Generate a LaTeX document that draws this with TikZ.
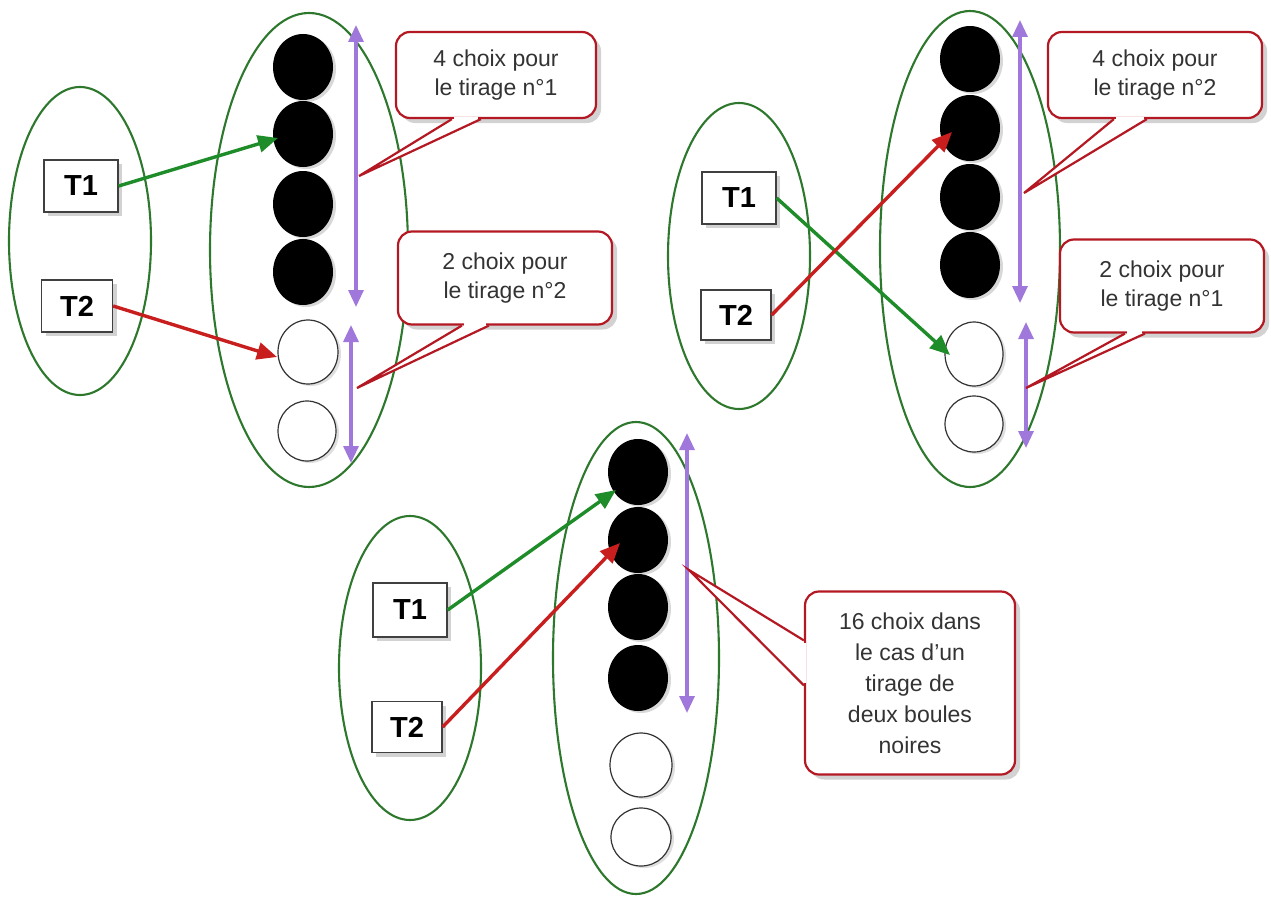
\documentclass[tikz,border=0pt]{standalone}
\usepackage{fontspec}
\setmainfont{Liberation Sans}
\usetikzlibrary{arrows.meta,shapes.geometric,shadows,calc}
\definecolor{grn}{RGB}{45,120,45}
\definecolor{garrow}{RGB}{30,140,40}
\definecolor{rarrow}{RGB}{200,30,30}
\definecolor{purp}{RGB}{160,120,220}
\definecolor{cbord}{RGB}{180,25,35}
\begin{document}
\begin{tikzpicture}[x=1pt,y=-1pt,
 grpell/.style={draw=grn, line width=2.1pt, ellipse, inner sep=0pt},
 blackball/.style={ellipse, fill=black, minimum width=60pt, minimum height=66pt, inner sep=0pt,
   drop shadow={shadow xshift=3pt,shadow yshift=-2pt,opacity=0.3}},
 whiteball/.style={ellipse, draw=black!80, line width=1.2pt, fill=white, minimum width=58pt, minimum height=60pt, inner sep=0pt,
   drop shadow={shadow xshift=3pt,shadow yshift=-2pt,opacity=0.25}},
 tbox/.style={draw=black!75, line width=1.3pt, fill=white, font=\bfseries\fontsize{29}{29}\selectfont,
   minimum width=72pt, minimum height=52pt, inner sep=0pt,
   drop shadow={shadow xshift=4pt,shadow yshift=-4pt,opacity=0.35}},
 callbox/.style={draw=cbord, line width=2.2pt, fill=white, rounded corners=14pt, align=center,
   font=\fontsize{23}{29}\selectfont, text=black!80, inner sep=0pt,
   drop shadow={shadow xshift=5pt,shadow yshift=-5pt,opacity=0.35}},
 gar/.style={draw=garrow, line width=3.4pt, -{Triangle[length=20pt,width=17pt]}},
 rar/.style={draw=rarrow, line width=3.4pt, -{Triangle[length=20pt,width=17pt]}},
 par/.style={draw=purp, line width=3.2pt, {Triangle[length=17pt,width=15pt]}-{Triangle[length=17pt,width=15pt]}},
 wedge/.style={draw=cbord, line width=2.2pt, fill=white, line join=miter},
 cover/.style={draw=white, line width=2.4pt}
]
\useasboundingbox[fill=white] (0,0) rectangle (1271,899);

% ---------------- Panel 1 ----------------
\node[grpell, minimum width=142pt, minimum height=308pt] (e11) at (80,241) {};
\node[grpell, minimum width=198pt, minimum height=474pt] (e12) at (309,250) {};
\node[tbox, minimum width=74pt] (t11) at (81,186) {T1};
\node[tbox, minimum width=71pt] (t12) at (77,306) {T2};
\node[blackball] (b11) at (303,67) {};
\node[blackball] (b12) at (303,134) {};
\node[blackball] (b13) at (303,204) {};
\node[blackball] (b14) at (303,272) {};
\node[whiteball, minimum width=60pt, minimum height=64pt] (w11) at (308,352) {};
\node[whiteball] (w12) at (307,431) {};
\coordinate (p11a) at (356,25);
\coordinate (p11b) at (356,307);
\coordinate (p12a) at (351,325);
\coordinate (p12b) at (351,463);
\draw[par] (p11a) -- (p11b);
\draw[par] (p12a) -- (p12b);
\draw[gar] (t11.east) -- ($(b12)+(-25,4)$);
\draw[rar] (t12.east) -- ($(w11)+(-31,5)$);
\node[callbox, minimum width=200pt, minimum height=86pt] (c11) at (496,75) {4 choix pour\\le tirage n°1};
\node[callbox, minimum width=214pt, minimum height=93pt] (c12) at (505,278) {2 choix pour\\le tirage n°2};
\coordinate (k11) at (359,176);
\coordinate (k12) at (357,388);
\filldraw[wedge] ($(c11.south west)+(57,0)$) -- (k11) -- ($(c11.south west)+(86,0)$);
\draw[cover] ($(c11.south west)+(59.5,-1)$) -- ($(c11.south west)+(83.5,-1)$);
\filldraw[wedge] ($(c12.south west)+(65,0)$) -- (k12) -- ($(c12.south west)+(92,0)$);
\draw[cover] ($(c12.south west)+(67.5,-1)$) -- ($(c12.south west)+(89.5,-1)$);

% ---------------- Panel 2 ----------------
\node[grpell, minimum width=142pt, minimum height=306pt] (e21) at (739,256) {};
\node[grpell, minimum width=180pt, minimum height=476pt] (e22) at (970,249) {};
\node[tbox, minimum width=74pt] (t21) at (739,198) {T1};
\node[tbox, minimum width=70pt, minimum height=50pt] (t22) at (736,315) {T2};
\node[blackball] (b21) at (970,59) {};
\node[blackball] (b22) at (970,128) {};
\node[blackball] (b23) at (970,197) {};
\node[blackball] (b24) at (970,265) {};
\node[whiteball, minimum height=64pt] (w21) at (974,354) {};
\node[whiteball, minimum height=56pt] (w22) at (974,424) {};
\coordinate (p21a) at (1020,20);
\coordinate (p21b) at (1020,303);
\coordinate (p22a) at (1026,322);
\coordinate (p22b) at (1026,448);
\draw[par] (p21a) -- (p21b);
\draw[par] (p22a) -- (p22b);
\draw[gar] (t21.east) -- ($(w21)+(-24,1)$);
\draw[rar] (t22.east) -- ($(b22)+(-18,4)$);
\node[callbox, minimum width=214pt, minimum height=86pt] (c21) at (1155,75) {4 choix pour\\le tirage n°2};
\node[callbox, minimum width=204pt, minimum height=93pt] (c22) at (1162,286) {2 choix pour\\le tirage n°1};
\coordinate (k21) at (1024,193);
\coordinate (k22) at (1026,388);
\filldraw[wedge] ($(c21.south west)+(67,0)$) -- (k21) -- ($(c21.south west)+(100,0)$);
\draw[cover] ($(c21.south west)+(69.5,-1)$) -- ($(c21.south west)+(97.5,-1)$);
\filldraw[wedge] ($(c22.south west)+(66,0)$) -- (k22) -- ($(c22.south west)+(86,0)$);
\draw[cover] ($(c22.south west)+(68.5,-1)$) -- ($(c22.south west)+(83.5,-1)$);

% ---------------- Panel 3 ----------------
\node[grpell, minimum width=142pt, minimum height=304pt] (e31) at (410,668) {};
\node[grpell, minimum width=166pt, minimum height=472pt] (e32) at (636,658) {};
\node[tbox, minimum width=74pt, minimum height=54pt] (t31) at (410,610) {T1};
\node[tbox, minimum width=70pt, minimum height=51pt] (t32) at (407,727) {T2};
\node[blackball] (b31) at (638,472) {};
\node[blackball] (b32) at (638,540) {};
\node[blackball] (b33) at (638,607) {};
\node[blackball] (b34) at (638,678) {};
\node[whiteball, minimum width=62pt, minimum height=64pt] (w31) at (641,765) {};
\node[whiteball, minimum width=60pt, minimum height=58pt] (w32) at (641,837) {};
\coordinate (p31a) at (687,433);
\coordinate (p31b) at (687,713);
\draw[par] (p31a) -- (p31b);
\draw[gar] (t31.east) -- ($(b31)+(-22,18)$);
\draw[rar] (t32.east) -- ($(b32)+(-18,3)$);
\node[callbox, minimum width=210pt, minimum height=183pt, font=\fontsize{23}{31}\selectfont] (c3) at (910,683)
  {16 choix dans\\le cas d'un\\tirage de\\deux boules\\noires};
\coordinate (k3) at (689,570);
\filldraw[wedge] ($(c3.north west)+(0,50)$) -- (k3) -- ($(c3.north west)+(0,95)$);
\draw[cover] ($(c3.north west)+(1,52.5)$) -- ($(c3.north west)+(1,92.5)$);
\end{tikzpicture}
\end{document}
